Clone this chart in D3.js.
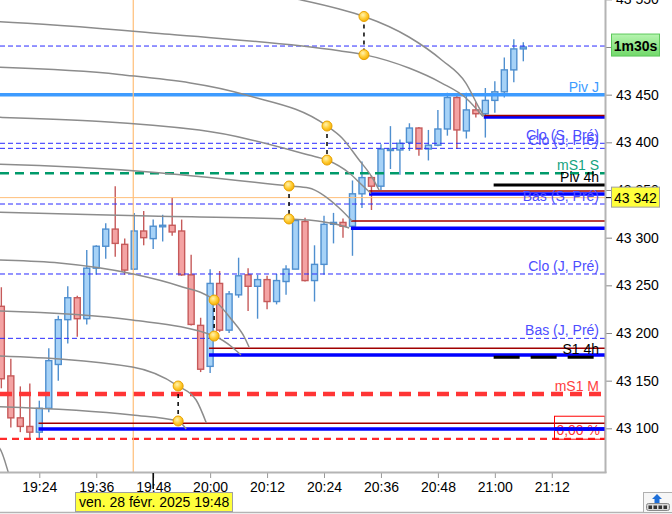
<!DOCTYPE html>
<html><head><meta charset="utf-8">
<script src="https://cdn.jsdelivr.net/npm/d3@7"></script>
<style>
html,body{margin:0;padding:0;background:#fff;}
svg{display:block;font-family:"Liberation Sans",Arial,sans-serif;}
</style></head><body>
<svg id="c" width="672" height="514"></svg>
<script>
// ---------------- DATA ----------------
const candleTimes = ["19:16","19:18","19:20","19:22","19:24","19:26","19:28","19:30","19:32","19:34","19:36","19:38","19:40","19:42","19:44","19:46","19:48","19:50","19:52","19:54","19:56","19:58","20:00","20:02","20:04","20:06","20:08","20:10","20:12","20:14","20:16","20:18","20:20","20:22","20:24","20:26","20:28","20:30","20:32","20:34","20:36","20:38","20:40","20:42","20:44","20:46","20:48","20:50","20:52","20:54","20:56","20:58","21:00","21:02","21:04","21:06"];
const opens  = [43228,43155,43111,43102,43096,43121,43167,43214,43237,43215,43268,43291,43309,43293,43267,43307,43299,43312,43313,43307,43261,43208,43165,43252,43203,43240,43261,43249,43256,43233,43254,43267,43317,43255,43272,43314,43316,43312,43346,43363,43354,43392,43392,43400,43415,43393,43397,43414,43447,43412,43434,43430,43444,43453,43476,43498];
const highs  = [43248,43173,43144,43147,43129,43184,43218,43249,43239,43287,43292,43315,43354,43299,43326,43328,43319,43324,43342,43319,43282,43216,43267,43265,43244,43279,43268,43261,43260,43262,43271,43319,43321,43292,43323,43326,43320,43360,43380,43365,43398,43417,43403,43420,43416,43413,43434,43452,43449,43452,43442,43457,43464,43489,43508,43505];
const lows   = [43142,43101,43096,43088,43088,43117,43150,43189,43196,43209,43261,43278,43280,43261,43266,43292,43288,43296,43302,43260,43208,43159,43158,43201,43200,43237,43223,43215,43225,43230,43240,43267,43254,43233,43261,43294,43300,43281,43331,43329,43350,43372,43366,43391,43386,43381,43396,43407,43393,43404,43426,43405,43431,43447,43463,43485];
const closes = [43152,43111,43102,43096,43121,43171,43214,43237,43215,43268,43291,43309,43294,43266,43307,43300,43312,43313,43306,43261,43209,43162,43252,43203,43241,43260,43249,43256,43233,43255,43267,43318,43255,43272,43314,43316,43312,43346,43363,43354,43393,43393,43399,43415,43393,43397,43414,43447,43413,43434,43430,43444,43453,43476,43498,43500];

const priceTicks = [43100,43150,43200,43250,43300,43350,43400,43450,43500,43550];
const lastPrice = 43501;
const timerText = "1m30s";

// named horizontal levels (full width)
const blueDashNames  = ["Clo (S, Pré)","Clo (J, Pré)","Bas (S, Pré)","Clo (J, Pré)","Bas (J, Pré)"];
const blueDashPrices = [43399,43393.7,43335.3,43261.9,43194.4];
const pivJ = 43450;
const mS1S = 43367.5;
const mS1M = 43136;
const lowRedDash = 43089;
// 4h levels starting at the new 4h bar
const fourHNames  = ["Piv 4h","S1 4h"];
const fourHPrices = [43355.2,43174.5];
const fourHStart  = "20:59:45";

// zone segments (dark red top / blue bottom) with start times
const zoneStarts = ["19:23:50","19:59:45","20:29:40","20:33:30","20:57:40"];
const zoneHigh   = [43105.4,43184,43317.5,43348.9,43428.2];
const zoneLow    = [43099.2,43177,43310,43345.8,43426.6];

// gray arcs: [minutes after 19:00, price]
const arc1U = [[70.3,43557.7],[79.2,43549.3],[87.2,43539.8],[92.42,43532],[101.9,43510.5],[108.8,43486.4],[113.9,43462.2],[116.6,43437],[117.7,43427.6]];
const arc1L = [[5,43528.3],[15.6,43526.5],[51.4,43513.3],[87.2,43496.1],[92.42,43492],[101.9,43477.9],[108.8,43462.2],[113.9,43446.5],[117.5,43427]];
const arc2U = [[5,43480],[15.6,43478.7],[40.8,43471.2],[67.6,43449.6],[84.63,43417.1],[87.8,43404.5],[91.4,43381.4],[94.1,43363.6],[95.6,43350]];
const arc2L = [[5,43427.5],[15.6,43426.2],[57.7,43412.9],[80.8,43386.7],[84.63,43381.4],[89.3,43367.8],[92,43355.2],[93.9,43346.3]];
const arc3U = [[5,43378],[15.6,43376.9],[47.2,43368.9],[76.63,43354.2],[80.8,43352],[87.2,43331.1],[89.9,43317.5]];
const arc3L = [[5,43327.5],[15.6,43326.6],[47.2,43322.7],[76.63,43319.6],[80.8,43318.5],[87.2,43313.3],[89.3,43310.1]];
const arc4U = [[5,43277.5],[15.6,43276.5],[28.2,43273.4],[43.8,43261.9],[53.5,43249.3],[60.84,43234.6],[64.6,43213.6],[67.2,43195.8],[68.2,43185.3]];
const arc4L = [[5,43224],[15.6,43223.1],[43.6,43213.6],[60.84,43196.8],[64.6,43185.3],[66.5,43176.9]];
const arc5U = [[5,43177],[15.6,43175.8],[43.6,43164.3],[53.26,43144.4],[57.05,43129.7],[59.2,43105.6]];
const arc5L = [[5,43124],[15.6,43122.7],[43.6,43114],[53.26,43107.7],[54.95,43099.3]];
const arc6U = [[5,43108],[7.2,43103.5],[15.6,43079.3],[17.5,43053.1],[18.5,43035]];

// yellow marker pairs
const dotTimes = [53.26,60.84,76.63,84.63,92.42];
const dotUpper = [43144.4,43234.6,43354.2,43417.1,43532];
const dotLower = [43107.7,43196.8,43319.6,43381.4,43492];

// crosshair
const crossTime = "19:43:48";
const crossPrice = 43342;
const crossDateTime = "19:48";
const crossDateText = "ven. 28 févr. 2025 19:48";
const zoneLabel = "0,00 %";

// ---------------- CHART ----------------
const T = s => { const [h,m,sec] = s.split(":").map(Number); return new Date(2025,1,28,h,m,sec||0); };
const TM = mm => new Date(new Date(2025,1,28,19,0,0).getTime() + mm*60000);
const plotR = 605, plotB = 472;
const svg = d3.select("#c");
const x = d3.scaleTime().domain([T("19:15:43"), T("21:23:13")]).range([0, plotR]);
const y = d3.scaleLinear().domain([43054.2, 43549.3]).range([plotB, 0]);

svg.append("rect").attr("width",672).attr("height",514).attr("fill","#fff");
svg.append("defs").html(`
  <clipPath id="clip"><rect x="0" y="0" width="${plotR}" height="${plotB}"/></clipPath>
  <radialGradient id="dotg" cx="40%" cy="35%" r="70%">
    <stop offset="0%" stop-color="#fff3b0"/><stop offset="55%" stop-color="#ffcc33"/><stop offset="100%" stop-color="#f0a800"/>
  </radialGradient>
  <linearGradient id="greeng" x1="0" y1="0" x2="0" y2="1">
    <stop offset="0%" stop-color="#b6f5b0"/><stop offset="100%" stop-color="#72d86a"/>
  </linearGradient>`);

const plot = svg.append("g").attr("clip-path","url(#clip)");

// candles
const candles = candleTimes.map((t,i)=>({t:T(t),o:opens[i],h:highs[i],l:lows[i],c:closes[i]}));
const up = d => d.c >= d.o;
const cg = plot.append("g");
cg.selectAll("line").data(candles).join("line")
  .attr("x1",d=>x(d.t)).attr("x2",d=>x(d.t))
  .attr("y1",d=>y(d.h)).attr("y2",d=>y(d.l))
  .attr("stroke",d=>up(d)?"#4f8fcf":"#c65a5a").attr("stroke-width",1.4);
cg.selectAll("rect").data(candles).join("rect")
  .attr("x",d=>x(d.t)-3).attr("width",6)
  .attr("y",d=>y(Math.max(d.o,d.c))).attr("height",d=>Math.max(1.5,Math.abs(y(d.o)-y(d.c))))
  .attr("fill",d=>up(d)?"#a6d2f7":"#f4a3a3")
  .attr("stroke",d=>up(d)?"#4f8fcf":"#c65a5a").attr("stroke-width",1.4);

function hline(g, price, x0, color, w, dash){
  g.append("line").attr("x1",x0).attr("x2",plotR).attr("y1",y(price)).attr("y2",y(price))
   .attr("stroke",color).attr("stroke-width",w).attr("stroke-dasharray",dash||null);
}
const lg = plot.append("g");
hline(lg, lastPrice, 0, "#2a2aff", 1, "5,3");
blueDashPrices.forEach(p=>hline(lg,p,0,"#2a2aff",1,"5,3"));
hline(lg, pivJ, 0, "#3d9bff", 3.5);
hline(lg, mS1S, 0, "#009a6a", 2.5, "9,6");
hline(lg, mS1M, 0, "#ff3535", 4.5, "12,7");
hline(lg, lowRedDash, 0, "#ff2a2a", 2.2, "7,5");
hline(lg, crossPrice, 0, "#ffbe78", 1);
lg.append("line").attr("x1",x(T(crossTime))).attr("x2",x(T(crossTime))).attr("y1",0).attr("y2",plotB)
  .attr("stroke","#ffbe78").attr("stroke-width",1.2);
zoneStarts.forEach((s,i)=>{
  hline(lg, zoneLow[i], x(T(s)), "#0000ff", 3.5);
  hline(lg, zoneHigh[i], x(T(s)), "#a00000", 1.4);
});
hline(lg, fourHPrices[0], x(T(fourHStart)), "#000", 3);
hline(lg, fourHPrices[1], x(T(fourHStart)), "#000", 3, "26,11");

const arcLine = d3.line().x(d=>x(TM(d[0]))).y(d=>y(d[1])).curve(d3.curveMonotoneX);
[arc1U,arc1L,arc2U,arc2L,arc3U,arc3L,arc4U,arc4L,arc5U,arc5L,arc6U].forEach(a=>{
  plot.append("path").attr("d",arcLine(a)).attr("fill","none").attr("stroke","#8c8c8c").attr("stroke-width",1.5);
});

dotTimes.forEach((t,i)=>{
  const xx = x(TM(t));
  plot.append("line").attr("x1",xx).attr("x2",xx).attr("y1",y(dotUpper[i])).attr("y2",y(dotLower[i]))
    .attr("stroke","#000").attr("stroke-width",1.5).attr("stroke-dasharray","4,4");
  [dotUpper[i],dotLower[i]].forEach(p=>{
    plot.append("circle").attr("cx",xx).attr("cy",y(p)).attr("r",5)
      .attr("fill","url(#dotg)").attr("stroke","#e8a200").attr("stroke-width",1);
  });
});

const lab = svg.append("g").attr("font-size",14).attr("text-anchor","end");
function label(text, price, color){
  lab.append("text").attr("x",599).attr("y",y(price)-3).attr("fill",color).text(text);
}
label("Piv J", pivJ, "#3d9bff");
blueDashNames.forEach((n,i)=>label(n, blueDashPrices[i], "#4d4dff"));
label("mS1 S", mS1S, "#14a380");
label(fourHNames[0], fourHPrices[0], "#000");
label(fourHNames[1], fourHPrices[1], "#000");
label("mS1 M", mS1M, "#ff4040");
const zb = svg.append("g");
zb.append("rect").attr("x",554.5).attr("y",y(43112.7)).attr("width",plotR-554.5).attr("height",y(43088.6)-y(43112.7))
  .attr("fill","none").attr("stroke","#ff0000").attr("stroke-width",1);
zb.append("text").attr("x",600).attr("y",y(zoneLow[0])+6).attr("text-anchor","end").attr("font-size",14).attr("fill","#ff3030").text(zoneLabel);
svg.append("line").attr("x1",554).attr("x2",plotR).attr("y1",y(zoneLow[0])).attr("y2",y(zoneLow[0])).attr("stroke","#0000ff").attr("stroke-width",3.5);

const fmtP = d3.format(",");
const yAxis = d3.axisRight(y).tickValues(priceTicks).tickSize(6).tickPadding(4).tickFormat(d=>fmtP(d).replace(/,/g," "));
const ya = svg.append("g").attr("transform",`translate(${plotR+1},0)`).call(yAxis);
ya.select(".domain").remove();
ya.selectAll("line").attr("stroke","#888");
ya.selectAll("text").attr("font-size",14).attr("fill","#000").attr("font-family","Liberation Sans, Arial, sans-serif");

const xAxis = d3.axisBottom(x).ticks(d3.timeMinute.every(12)).tickSize(5).tickPadding(4).tickFormat(d3.timeFormat("%H:%M"));
const xa = svg.append("g").attr("transform",`translate(0,${plotB+1})`).call(xAxis);
xa.select(".domain").remove();
xa.selectAll("line").attr("stroke","#999");
xa.selectAll("text").attr("font-size",14).attr("fill","#000").attr("font-family","Liberation Sans, Arial, sans-serif");

svg.append("line").attr("x1",plotR+0.5).attr("x2",plotR+0.5).attr("y1",0).attr("y2",plotB+1).attr("stroke","#b4b4b4").attr("stroke-width",2);
svg.append("line").attr("x1",0).attr("x2",plotR+1.5).attr("y1",plotB+0.5).attr("y2",plotB+0.5).attr("stroke","#b4b4b4").attr("stroke-width",2);
svg.append("line").attr("x1",0).attr("x2",672).attr("y1",512.5).attr("y2",512.5).attr("stroke","#b4b4b4").attr("stroke-width",1.5);

const cx = x(T(crossDateTime));
svg.append("line").attr("x1",cx).attr("x2",cx).attr("y1",plotB+1).attr("y2",plotB+17).attr("stroke","#000").attr("stroke-width",1.5);
const dg = svg.append("g");
dg.append("rect").attr("x",75.5).attr("y",492.5).attr("width",157).attr("height",19).attr("fill","#ffff3c").attr("stroke","#a0a0a0");
dg.append("text").attr("x",cx+1).attr("y",507).attr("text-anchor","middle").attr("font-size",14).attr("fill","#000").text(crossDateText);

const pg = svg.append("g");
pg.append("line").attr("x1",plotR+1).attr("x2",plotR+7).attr("y1",y(crossPrice)).attr("y2",y(crossPrice)).attr("stroke","#000");
pg.append("rect").attr("x",611.5).attr("y",y(crossPrice)-10.5).attr("width",48).attr("height",20).attr("fill","#ffff3c").attr("stroke","#a0a0a0");
pg.append("text").attr("x",635.5).attr("y",y(crossPrice)+5).attr("text-anchor","middle").attr("font-size",14).attr("fill","#000").text(fmtP(crossPrice).replace(/,/g," "));

const tg = svg.append("g");
tg.append("rect").attr("x",611.5).attr("y",y(lastPrice)-12).attr("width",48).attr("height",22).attr("fill","url(#greeng)").attr("stroke","#5cc85a");
tg.append("text").attr("x",635.5).attr("y",y(lastPrice)+4.5).attr("text-anchor","middle").attr("font-size",14).attr("font-weight","bold").attr("fill","#000").text(timerText);

const ic = svg.append("g");
ic.append("rect").attr("x",643.5).attr("y",492.5).attr("width",30).attr("height",20).attr("fill","#f6f6f6").attr("stroke","#b0b0b0");
ic.append("path").attr("d","M657,494 L662,499 L659.5,499 L659.5,503 L654.5,503 L654.5,499 L652,499 Z").attr("fill","#1e6fd9");
ic.append("rect").attr("x",646.5).attr("y",503.5).attr("width",23).attr("height",7).attr("rx",2).attr("fill","#d8d8d8").attr("stroke","#8a8a8a");
[648.5,653.5,658.5,663.5].forEach(xx=>ic.append("rect").attr("x",xx).attr("y",505.5).attr("width",3.5).attr("height",3.5).attr("fill","#333"));
</script>
</body></html>
